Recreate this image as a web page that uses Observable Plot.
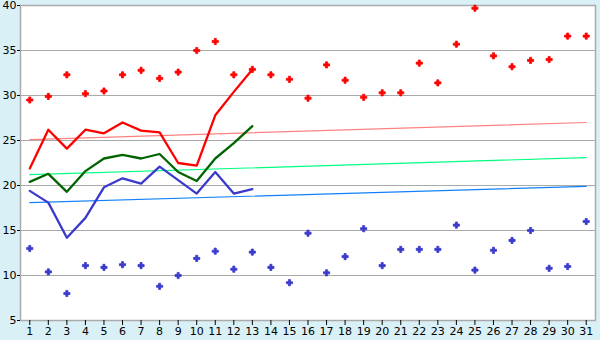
<!DOCTYPE html>
<html>
<head>
<meta charset="utf-8">
<script src="https://cdn.jsdelivr.net/npm/d3@7"></script>
<script src="https://cdn.jsdelivr.net/npm/@observablehq/plot@0.6"></script>
<style>
  html, body { margin: 0; padding: 0; background: #d9f0f7; }
  #chart { width: 600px; height: 340px; }
</style>
</head>
<body>
<div id="chart"></div>
<script>
const days = [1,2,3,4,5,6,7,8,9,10,11,12,13,14,15,16,17,18,19,20,21,22,23,24,25,26,27,28,29,30,31];
const maxT = [29.5,29.9,32.3,30.2,30.5,32.3,32.8,31.9,32.6,35.0,36.0,32.3,32.9,32.3,31.8,29.7,33.4,31.7,29.8,30.3,30.3,33.6,31.4,35.7,39.7,34.4,33.2,33.9,34.0,36.6,36.6];
const minT = [13.0,10.4,8.0,11.1,10.9,11.2,11.1,8.8,10.0,11.9,12.7,10.7,12.6,10.9,9.2,14.7,10.3,12.1,15.2,11.1,12.9,12.9,12.9,15.6,10.6,12.8,13.9,15.0,10.8,11.0,16.0];
const lineDays = [1,2,3,4,5,6,7,8,9,10,11,12,13];
const maxLine = [21.9,26.2,24.1,26.2,25.8,27.0,26.1,25.9,22.5,22.2,27.8,30.4,32.9];
const meanLine = [20.4,21.3,19.3,21.6,23.0,23.4,23.0,23.5,21.5,20.5,23.0,24.7,26.6];
const minLine = [19.4,18.1,14.2,16.4,19.8,20.8,20.2,22.1,20.6,19.1,21.5,19.1,19.6];
const trendDays = [1,31];
const maxTrend = [25.1,27.0];
const meanTrend = [21.2,23.1];
const minTrend = [18.1,19.9];
const yTicks = [5,10,15,20,25,30,35,40];

const pts = (xs, ys) => xs.map((d, i) => ({x: d, y: ys[i]}));

const chart = Plot.plot({
  width: 600,
  height: 340,
  marginLeft: 20,
  marginRight: 5,
  marginTop: 5,
  marginBottom: 20,
  style: {fontFamily: "DejaVu Sans", fontSize: "11px", background: "#d9f0f7", color: "black"},
  x: {type: "linear", domain: [0.5, 31.5], label: null},
  y: {domain: [5, 40], label: null},
  marks: [
    Plot.frame({fill: "white", stroke: null}),
    Plot.gridY(yTicks, {stroke: "#aaaaaa", strokeOpacity: 1, strokeWidth: 1}),
    Plot.frame({stroke: "#aaaaaa", strokeWidth: 1.5}),
    Plot.axisY(yTicks, {tickSize: 3, tickPadding: 1, stroke: "black", fill: "black", label: null}),
    Plot.axisX(days, {tickSize: 5, tickPadding: 2, stroke: "black", fill: "black", label: null}),
    Plot.line(pts(trendDays, maxTrend), {x: "x", y: "y", stroke: "#ff8080", strokeWidth: 1.2}),
    Plot.line(pts(trendDays, meanTrend), {x: "x", y: "y", stroke: "#00ff80", strokeWidth: 1.2}),
    Plot.line(pts(trendDays, minTrend), {x: "x", y: "y", stroke: "#1080ff", strokeWidth: 1.2}),
    Plot.line(pts(lineDays, meanLine), {x: "x", y: "y", stroke: "#006400", strokeWidth: 2.3}),
    Plot.line(pts(lineDays, minLine), {x: "x", y: "y", stroke: "#3a3acc", strokeWidth: 2.3}),
    Plot.line(pts(lineDays, maxLine), {x: "x", y: "y", stroke: "#ff0000", strokeWidth: 2.3}),
    Plot.dot(pts(days, maxT), {x: "x", y: "y", symbol: "cross", r: 2.6, fill: "#ff0000", stroke: "#ff0000", strokeWidth: 0.8}),
    Plot.dot(pts(days, minT), {x: "x", y: "y", symbol: "cross", r: 2.6, fill: "#3a3acc", stroke: "#3a3acc", strokeWidth: 0.8})
  ]
});
document.getElementById("chart").appendChild(chart);
</script>
</body>
</html>
